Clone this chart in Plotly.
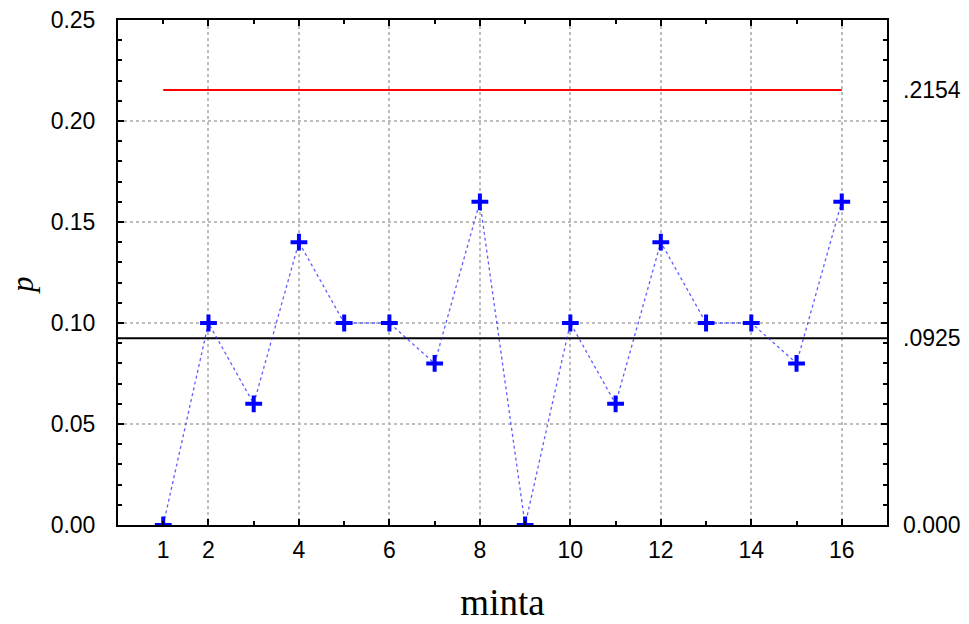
import plotly.graph_objects as go

samples = list(range(1, 17))
p_values = [0.00, 0.10, 0.06, 0.14, 0.10, 0.10, 0.08, 0.16,
            0.00, 0.10, 0.06, 0.14, 0.10, 0.10, 0.08, 0.16]
ucl = 0.2154
center = 0.0925
lcl = 0.0
x_range = [0, 17]
y_range = [0, 0.25]
x_major = [2, 4, 6, 8, 10, 12, 14, 16]
x_minor = [1, 3, 5, 7, 9, 11, 13, 15]
x_labels = [1, 2, 4, 6, 8, 10, 12, 14, 16]
right_vals = [lcl, center, ucl]
right_text = ["0.000", ".0925", ".2154"]

fig = go.Figure()

fig.add_trace(go.Scatter(x=x_range, y=[center, center], mode="lines",
                         line=dict(color="black", width=2), hoverinfo="skip",
                         showlegend=False))
fig.add_trace(go.Scatter(x=[samples[0], samples[-1]], y=[ucl, ucl], mode="lines",
                         line=dict(color="red", width=2), showlegend=False))
fig.add_trace(go.Scatter(x=samples, y=p_values, mode="lines+markers",
                         line=dict(color="rgba(40,40,255,0.75)", width=1.3, dash="dot"),
                         marker=dict(symbol="cross-thin", size=12, color="blue",
                                     line=dict(color="blue", width=4)),
                         showlegend=False))
# invisible trace for secondary axes
fig.add_trace(go.Scatter(x=x_range, y=y_range, xaxis="x2", yaxis="y2",
                         mode="markers", marker=dict(opacity=0), showlegend=False,
                         hoverinfo="skip"))

tick_font = dict(family="Liberation Sans, Arial", size=23, color="black")
grid_color = "#bdbdbd"
grid_dash = "3px,3px"

fig.update_layout(
    width=969, height=624,
    margin=dict(l=118, r=82, t=20, b=99),
    paper_bgcolor="white", plot_bgcolor="white",
    xaxis=dict(range=x_range, tickmode="array", tickvals=x_major,
               showticklabels=False, ticks="inside", ticklen=6, tickwidth=2,
               tickcolor="black", showline=True, linecolor="black", linewidth=2,
               mirror="ticks", showgrid=True, gridcolor=grid_color, griddash=grid_dash,
               gridwidth=1.5, zeroline=False, automargin=False,
               minor=dict(tickmode="array", tickvals=x_minor, ticks="inside",
                          ticklen=4, tickwidth=2, tickcolor="black", showgrid=False)),
    xaxis2=dict(range=x_range, overlaying="x", anchor="y", side="bottom",
                tickmode="array", tickvals=x_labels, ticks="", showline=False,
                showgrid=False, zeroline=False, tickfont=tick_font,
                ticklabelstandoff=9, automargin=False,
                title=dict(text="minta", standoff=27,
                           font=dict(family="Liberation Serif, Times New Roman",
                                     size=37, color="black"))),
    yaxis=dict(range=y_range, tickmode="linear", tick0=0, dtick=0.05,
               tickformat=".2f", tickfont=tick_font, ticks="inside", ticklen=6,
               tickwidth=2, tickcolor="black", showline=True, linecolor="black",
               linewidth=2, mirror="ticks", showgrid=True, gridcolor=grid_color,
               griddash=grid_dash, gridwidth=1.5, zeroline=False, ticklabelstandoff=16,
               automargin=False,
               minor=dict(dtick=0.01, ticks="inside", ticklen=4, tickwidth=2,
                          tickcolor="black", showgrid=False)),
    yaxis2=dict(range=y_range, overlaying="y", anchor="x", side="right",
                tickmode="array", tickvals=right_vals, ticktext=right_text,
                ticks="", showline=False, showgrid=False, zeroline=False,
                tickfont=tick_font, ticklabelstandoff=15, automargin=False),
    annotations=[dict(text="<i>p</i>", xref="paper", yref="paper",
                      x=-0.125, y=0.475, xanchor="center", yanchor="middle",
                      textangle=-90, showarrow=False,
                      font=dict(family="Liberation Serif, Times New Roman",
                                size=31, color="black"))],
)

fig.write_html("out.html", config={"displayModeBar": False},
               post_script="document.body.style.margin='0';")
